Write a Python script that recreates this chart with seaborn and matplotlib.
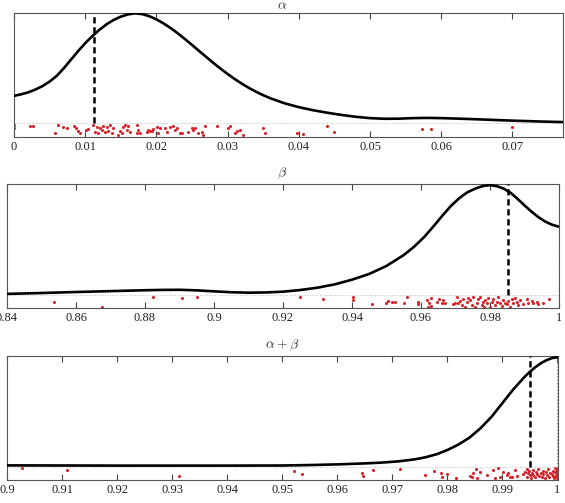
import matplotlib
matplotlib.use("Agg")
import matplotlib.pyplot as plt
import seaborn as sns

sns.set_style("white")
plt.rcParams['font.family'] = ['Liberation Serif', 'DejaVu Serif']
plt.rcParams['mathtext.fontset'] = 'cm'

# ---- alpha ----
alpha_curve_x = [0, 0.001, 0.002, 0.003, 0.004, 0.005, 0.006, 0.007, 0.008, 0.009, 0.010,
                 0.011, 0.012, 0.013, 0.014, 0.015, 0.016, 0.017, 0.018, 0.019, 0.020,
                 0.021, 0.022, 0.023, 0.024, 0.025, 0.026, 0.027, 0.028, 0.029, 0.030,
                 0.031, 0.032, 0.033, 0.034, 0.035, 0.036, 0.038, 0.040, 0.042, 0.044,
                 0.046, 0.048, 0.050, 0.052, 0.054, 0.056, 0.058, 0.060, 0.063, 0.066,
                 0.070, 0.074, 0.0771]
alpha_curve_y = [0.248, 0.262, 0.28, 0.305, 0.337, 0.378, 0.43, 0.50, 0.578, 0.655, 0.728,
                 0.792, 0.85, 0.90, 0.94, 0.97, 0.99, 1.0, 0.993, 0.974, 0.945,
                 0.908, 0.866, 0.818, 0.766, 0.712, 0.657, 0.602, 0.548, 0.496, 0.447,
                 0.401, 0.359, 0.32, 0.285, 0.254, 0.226, 0.18, 0.145, 0.117, 0.094,
                 0.074, 0.057, 0.045, 0.039, 0.04, 0.045, 0.047, 0.045, 0.039, 0.032,
                 0.022, 0.014, 0.009]
alpha_pts_x = [0, 0, 0.00225, 0.0027, 0.00576, 0.00622, 0.00692, 0.0074, 0.00842, 0.0087, 0.00903,
               0.00926, 0.0101, 0.0104, 0.0111, 0.01137, 0.0116, 0.01184, 0.01207, 0.0123,
               0.01254, 0.01277, 0.0130, 0.01324, 0.01348, 0.0137, 0.01394, 0.01464, 0.01488,
               0.01512, 0.01535, 0.01558, 0.01582, 0.01605, 0.01628, 0.01722, 0.01731, 0.01745,
               0.01769, 0.01862, 0.01885, 0.01909, 0.01933, 0.01956, 0.02003, 0.02026, 0.0205,
               0.0212, 0.02143, 0.0219, 0.02236, 0.0226, 0.02284, 0.0233, 0.02354, 0.02448,
               0.02494, 0.02518, 0.0254, 0.02588, 0.02635, 0.02658, 0.02681, 0.02845, 0.03008,
               0.03032, 0.03102, 0.03126, 0.0317, 0.0322, 0.035, 0.0352, 0.0398, 0.0406,
               0.0439, 0.0449, 0.0573, 0.0585, 0.0700]
alpha_pts_y = [-0.043, -0.02, -0.027, -0.027, -0.088, -0.018, -0.039, -0.048, -0.027, -0.048, -0.073,
               -0.094, -0.064, -0.058, -0.021, -0.079, -0.033, -0.094, -0.048, -0.064,
               -0.027, -0.079, -0.033, -0.07, -0.021, -0.088, -0.048, -0.109, -0.073,
               -0.088, -0.033, -0.021, -0.064, -0.027, -0.079, -0.021, -0.088, -0.064,
               -0.094, -0.079, -0.064, -0.07, -0.073, -0.058, -0.033, -0.094, -0.048,
               -0.048, -0.079, -0.039, -0.027, -0.064, -0.042, -0.094, -0.088, -0.079,
               -0.042, -0.064, -0.048, -0.094, -0.079, -0.109, -0.027, -0.027, -0.048,
               -0.027, -0.094, -0.073, -0.064, -0.109, -0.048, -0.088, -0.088, -0.103,
               -0.027, -0.085, -0.054, -0.054, -0.039]
alpha_mark = 0.0113
alpha_ticks = [0, 0.01, 0.02, 0.03, 0.04, 0.05, 0.06, 0.07]
alpha_labels = ["0", "0.01", "0.02", "0.03", "0.04", "0.05", "0.06", "0.07"]

# ---- beta ----
beta_curve_x = [0.84, 0.85, 0.86, 0.87, 0.88, 0.885, 0.89, 0.895, 0.90, 0.905, 0.91, 0.915,
                0.92, 0.925, 0.93, 0.935, 0.94, 0.945, 0.95, 0.955, 0.958, 0.961, 0.9638,
                0.9662, 0.9686, 0.971, 0.9734, 0.976, 0.978, 0.980, 0.982, 0.984, 0.986,
                0.988, 0.990, 0.992, 0.994, 0.996, 0.998, 1.0]
beta_curve_y = [0.010, 0.018, 0.027, 0.035, 0.043, 0.046, 0.047, 0.042, 0.033, 0.025, 0.021, 0.023,
                0.03, 0.045, 0.066, 0.096, 0.138, 0.19, 0.262, 0.36, 0.435, 0.525, 0.625,
                0.715, 0.80, 0.87, 0.925, 0.962, 0.982, 0.99, 0.98, 0.958, 0.92,
                0.866, 0.807, 0.752, 0.702, 0.662, 0.633, 0.615]
beta_pts_x = [0.8536, 0.8676, 0.8822, 0.8906, 0.8952, 0.9249, 0.9317, 0.9402, 0.9404, 0.9459,
              0.9499, 0.9505, 0.9515, 0.9525, 0.9551, 0.9559, 0.9590, 0.9592, 0.9617, 0.9621,
              0.9624, 0.9628, 0.9630, 0.9645, 0.9653, 0.9660, 0.9665, 0.9670, 0.9692, 0.9699,
              0.9703, 0.9708, 0.9713, 0.9718, 0.9723, 0.9728, 0.9732, 0.9735, 0.9742, 0.9747,
              0.9752, 0.9757, 0.9761, 0.9766, 0.9771, 0.9776, 0.9779, 0.9783, 0.9786, 0.9790,
              0.9795, 0.9800, 0.9805, 0.9810, 0.9814, 0.9819, 0.9824, 0.9829, 0.9834, 0.9839,
              0.9843, 0.9848, 0.9853, 0.9858, 0.9863, 0.9868, 0.9872, 0.9877, 0.9882, 0.9887,
              0.9895, 0.9906, 0.9911, 0.9921, 0.9926, 0.9935, 0.9940, 0.9955, 0.9972]
beta_pts_y = [-0.06, -0.105, -0.015, -0.03, -0.021, -0.015, -0.039, -0.015, -0.045, -0.084,
              -0.075, -0.051, -0.06, -0.06, -0.075, -0.015, -0.06, -0.084, -0.045, -0.105,
              -0.075, -0.03, -0.096, -0.06, -0.039, -0.069, -0.045, -0.075, -0.081, -0.069,
              -0.021, -0.075, -0.051, -0.09, -0.039, -0.105, -0.06, -0.03, -0.045, -0.09,
              -0.015, -0.105, -0.069, -0.039, -0.015, -0.09, -0.06, -0.105, -0.045, -0.075,
              -0.03, -0.105, -0.06, -0.039, -0.09, -0.06, -0.021, -0.075, -0.099, -0.045,
              -0.069, -0.081, -0.051, -0.105, -0.039, -0.075, -0.03, -0.06, -0.09, -0.045,
              -0.081, -0.039, -0.069, -0.051, -0.075, -0.06, -0.081, -0.075, -0.039]
beta_mark = 0.9852
beta_ticks = [0.84, 0.86, 0.88, 0.90, 0.92, 0.94, 0.96, 0.98, 1.0]
beta_labels = ["0.84", "0.86", "0.88", "0.9", "0.92", "0.94", "0.96", "0.98", "1"]

# ---- alpha + beta ----
sum_curve_x = [0.90, 0.92, 0.94, 0.95, 0.955, 0.96, 0.965, 0.968, 0.971, 0.974, 0.976,
               0.978, 0.980, 0.982, 0.984, 0.986, 0.988, 0.990, 0.992, 0.994, 0.995,
               0.996, 0.997, 0.998, 0.999, 1.0]
sum_curve_y = [0.012, 0.010, 0.010, 0.011, 0.015, 0.021, 0.03, 0.037, 0.048, 0.066, 0.085,
               0.112, 0.151, 0.2, 0.262, 0.347, 0.45, 0.575, 0.70, 0.81, 0.858,
               0.90, 0.935, 0.962, 0.981, 0.99]
sum_pts_x = [0.9027, 0.9109, 0.9312, 0.9521, 0.9535, 0.9645, 0.9647, 0.9664, 0.9714, 0.976,
             0.9776, 0.9788, 0.979, 0.9799, 0.9816, 0.98413, 0.98444, 0.98473, 0.98522, 0.98535,
             0.98595, 0.98716, 0.98836, 0.98867, 0.98927, 0.98958, 0.99018, 0.9908, 0.99109,
             0.9914, 0.99171, 0.99231, 0.99262, 0.99382, 0.99413, 0.99444, 0.99455, 0.99473,
             0.99491, 0.99504, 0.99516, 0.99535, 0.99553, 0.99564, 0.99595, 0.99613, 0.99625,
             0.99655, 0.99673, 0.99698, 0.99716, 0.99735, 0.99745, 0.99776, 0.99795, 0.99807,
             0.99836, 0.99855, 0.99867, 0.99898, 0.99916, 0.99927, 0.9994, 0.99958, 0.99964,
             0.99971, 0.99976, 0.9999, 0.9999, 1.0, 1.0, 1.0, 1.0, 1.0]
sum_pts_y = [-0.015, -0.03, -0.084, -0.039, -0.066, -0.06, -0.084, -0.03, -0.024, -0.075,
             -0.036, -0.054, -0.09, -0.066, -0.105, -0.084, -0.09, -0.054, -0.024, -0.105,
             -0.045, -0.075, -0.03, -0.105, -0.015, -0.09, -0.045, -0.075, -0.054,
             -0.09, -0.096, -0.03, -0.084, -0.066, -0.045, -0.024, -0.09, -0.06,
             -0.036, -0.078, -0.105, -0.054, -0.03, -0.075, -0.096, -0.045, -0.066,
             -0.024, -0.084, -0.054, -0.09, -0.036, -0.066, -0.105, -0.045, -0.075,
             -0.024, -0.09, -0.054, -0.066, -0.036, -0.084, -0.105, -0.045, -0.015,
             -0.075, -0.09, -0.03, -0.07, -0.02, -0.04, -0.06, -0.08, -0.1]
sum_mark = 0.99504
sum_ticks = [0.90, 0.91, 0.92, 0.93, 0.94, 0.95, 0.96, 0.97, 0.98, 0.99, 1.0]
sum_labels = ["0.9", "0.91", "0.92", "0.93", "0.94", "0.95", "0.96", "0.97", "0.98", "0.99", "1"]

titles = [r"$\alpha$", r"$\beta$", r"$\alpha + \beta$"]

W, H = 565, 503
fig = plt.figure(figsize=(W / 100, H / 100), dpi=100)

panels = [
    dict(box=(14, 13, 563, 137), xlim=(0, 0.0771), ylim=(-0.127, 1.003),
         cx=alpha_curve_x, cy=alpha_curve_y, px=alpha_pts_x, py=alpha_pts_y,
         mark=alpha_mark, ticks=alpha_ticks, labels=alpha_labels, edge=0, tpad=1),
    dict(box=(7, 184, 559, 308), xlim=(0.84, 1.0), ylim=(-0.117, 1.0),
         cx=beta_curve_x, cy=beta_curve_y, px=beta_pts_x, py=beta_pts_y,
         mark=beta_mark, ticks=beta_ticks, labels=beta_labels, edge=-1, tpad=3),
    dict(box=(7.3, 356, 558, 480), xlim=(0.9, 1.0001), ylim=(-0.12, 1.0),
         cx=sum_curve_x, cy=sum_curve_y, px=sum_pts_x, py=sum_pts_y,
         mark=sum_mark, ticks=sum_ticks, labels=sum_labels, edge=-1, tpad=3),
]

for p, title in zip(panels, titles):
    l, t, r, b = p["box"]
    ax = fig.add_axes([l / W, 1 - b / H, (r - l) / W, (b - t) / H])
    ax.axhline(0, color="#aaaaaa", lw=0.6, ls=(0, (1, 2)), zorder=1)
    ex, ey = p["cx"][p["edge"]], p["cy"][p["edge"]]
    ax.vlines(ex, 0, ey, color="#888888", lw=0.8, ls=(0, (1, 2)), zorder=1)
    sns.scatterplot(x=p["px"], y=p["py"], ax=ax, color="#d8232a", s=5,
                    linewidth=0, zorder=2, legend=False)
    ax.vlines(p["mark"], 0, p["ylim"][1], color="black", lw=1.8,
              ls=(0, (2.5, 1.5)), zorder=3)
    sns.lineplot(x=p["cx"], y=p["cy"], ax=ax, color="black", lw=1.9,
                 sort=False, estimator=None, zorder=4)
    ax.set_xlim(*p["xlim"])
    ax.set_ylim(*p["ylim"])
    ax.set_xticks(p["ticks"])
    ax.set_xticklabels(p["labels"])
    ax.set_yticks([])
    ax.tick_params(axis="x", direction="in", top=True, bottom=True, length=4,
                   width=0.8, color="#444444", pad=3, labelsize=9, labelcolor="#222222")
    for s in ax.spines.values():
        s.set_color("#555555")
        s.set_linewidth(0.8)
    fig.text(0.5, 1 - (t - p["tpad"]) / H, title, ha="center", va="bottom",
             fontsize=10, color="#333333")

fig.savefig("out.png", dpi=100)
